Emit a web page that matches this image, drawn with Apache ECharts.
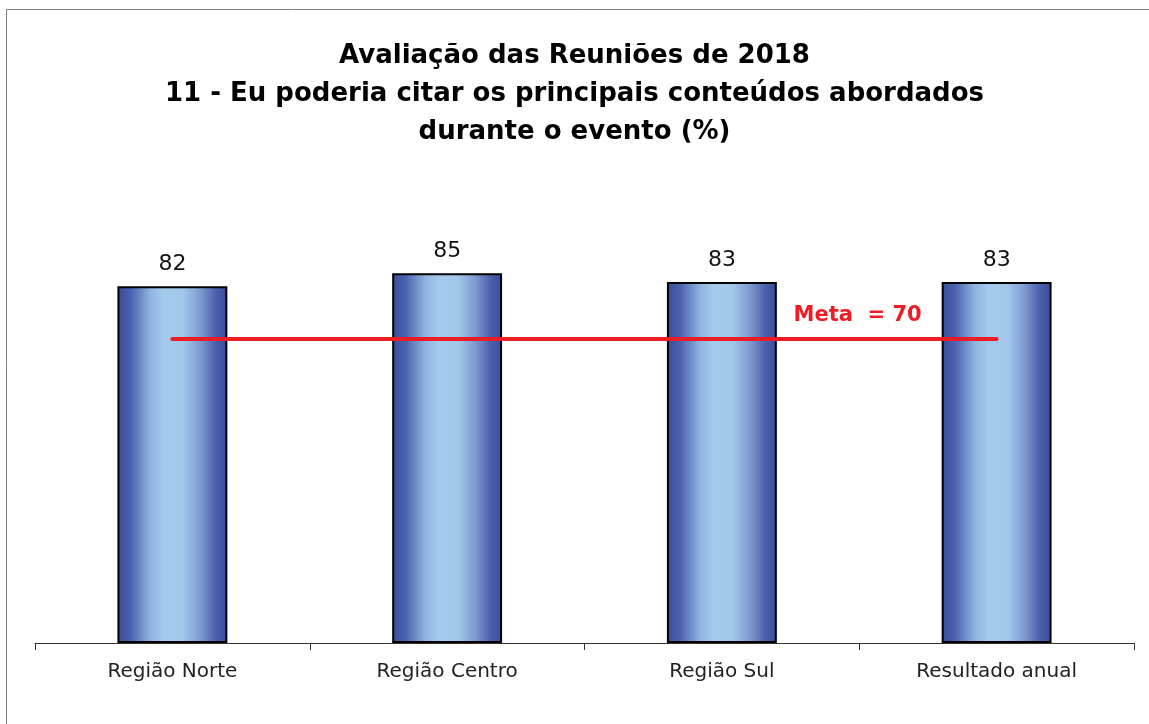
<!DOCTYPE html>
<html>
<head>
<meta charset="utf-8">
<script src="https://cdn.jsdelivr.net/npm/echarts@6/dist/echarts.min.js"></script>
<style>
  html, body { margin: 0; padding: 0; background: #fff; }
  #chart { width: 1149px; height: 724px; }
</style>
</head>
<body>
<div id="chart"></div>
<script>
const titleText = 'Avaliação das Reuniões de 2018\n11 - Eu poderia citar os principais conteúdos abordados\ndurante o evento (%)';
const categories = ['Região Norte', 'Região Centro', 'Região Sul', 'Resultado anual'];
const values = [82, 85, 83, 83];
const metaValue = 70;
const metaLabel = 'Meta  = 70';
const yMin = 0;
const yMax = 100;

const FONT = '"DejaVu Sans", "Liberation Sans", Arial, sans-serif';

const barGradient = new echarts.graphic.LinearGradient(0, 0, 1, 0, [
  { offset: 0, color: '#3a4c9c' },
  { offset: 0.12, color: '#4b62ae' },
  { offset: 0.3, color: '#8fb3df' },
  { offset: 0.42, color: '#a3cbec' },
  { offset: 0.6, color: '#a1c8ea' },
  { offset: 0.76, color: '#7d98cf' },
  { offset: 0.9, color: '#4a5eab' },
  { offset: 1, color: '#3a4c9c' }
]);

const chart = echarts.init(document.getElementById('chart'), null, { renderer: 'canvas' });
chart.setOption({
  animation: false,
  backgroundColor: '#ffffff',
  title: {
    text: titleText,
    left: 'center',
    top: 32,
    textStyle: {
      fontFamily: FONT,
      fontSize: 26,
      fontWeight: 'bold',
      color: '#000',
      lineHeight: 38
    }
  },
  graphic: [{
    type: 'rect',
    shape: { x: 6.5, y: 9.5, width: 1300, height: 900 },
    style: { fill: 'none', stroke: '#7f7f7f', lineWidth: 1 },
    silent: true
  }],
  grid: { left: 35, right: 15, top: 208, bottom: 81, containLabel: false },
  xAxis: {
    type: 'category',
    data: categories,
    boundaryGap: true,
    axisLine: { show: true, lineStyle: { color: '#333', width: 1 } },
    axisTick: { show: true, alignWithLabel: false, length: 7, lineStyle: { color: '#333' } },
    axisLabel: { fontFamily: FONT, fontSize: 20, color: '#222', margin: 19 }
  },
  yAxis: {
    type: 'value',
    min: yMin,
    max: yMax,
    show: false,
    splitLine: { show: false }
  },
  series: [{
    type: 'bar',
    data: values,
    barWidth: '40%',
    itemStyle: { color: barGradient, borderColor: '#000', borderWidth: 2 },
    label: {
      show: true,
      position: 'top',
      distance: 11,
      fontFamily: FONT,
      fontSize: 22,
      color: '#111'
    },
    markLine: {
      silent: true,
      symbol: ['none', 'none'],
      lineStyle: { color: '#ee1c25', width: 4, type: 'solid', cap: 'round' },
      label: {
        show: true,
        position: 'insideEndTop',
        distance: [75, 12],
        formatter: metaLabel,
        fontFamily: FONT,
        fontSize: 21,
        fontWeight: 'bold',
        color: '#ee1c25'
      },
      data: [[
        { coord: [0, metaValue] },
        { coord: [3, metaValue] }
      ]]
    }
  }]
});
</script>
</body>
</html>
